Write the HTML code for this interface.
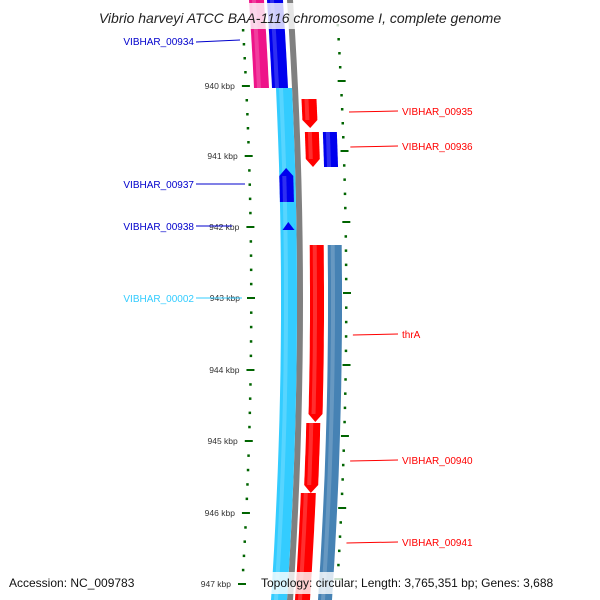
<!DOCTYPE html>
<html><head><meta charset="utf-8"><style>
body{margin:0;background:#fff;}
svg{display:block;font-family:"Liberation Sans","DejaVu Sans",sans-serif;}
</style></head><body>
<svg id="map" width="600" height="600" viewBox="0 0 600 600" xmlns="http://www.w3.org/2000/svg">
<g id="tracks"></g>
<g id="ticks"></g>
<g id="labels"></g>
<rect x="225" y="3" width="300" height="26" fill="#fff" opacity="0.8"/>
<text x="300" y="23" text-anchor="middle" font-size="14" font-style="italic" fill="#222">Vibrio harveyi ATCC BAA-1116 chromosome I, complete genome</text>
<rect x="257" y="572" width="340" height="22" fill="#fff" opacity="0.8"/>
<text x="9" y="587" font-size="12" fill="#111">Accession: NC_009783</text>
<text x="261" y="587" font-size="12" fill="#111">Topology: circular; Length: 3,765,351 bp; Genes: 3,688</text>
</svg>
<script>
const NS="http://www.w3.org/2000/svg";
// features: [name, x1, x2, yStart, yEnd, color, arrowDown]
const featNames=["f-00934","f-strandA","f-00002","f-00937","f-00938","f-00935","f-00936a","f-00936b","f-thrA","f-00940","f-00941","f-steel"];
const featX1=[259,277,281,281,283,306,308,326,310,308,305,328];
const featX2=[274,293,297,295,295,321,322,340,324,322,320,342];
const featY1=[0,0,88,168,222,99,132,132,245,423,493,245];
const featY2=[88,88,600,202,230,128,167,167,422,493,600,600];
const featColor=["#ee1489","#0000ee","#33ccff","#0000ee","#0000ee","#ff0000","#ff0000","#0000ee","#ff0000","#ff0000","#ff0000","#4682b4"];
const featArrow=[0,0,0,2,2,1,1,0,1,1,0,0];
const kbpLabels=["940 kbp","941 kbp","942 kbp","943 kbp","944 kbp","945 kbp","946 kbp","947 kbp"];
const kbpY=[86,156,227,298,370,441,513,584];
const leftLabels=["VIBHAR_00934","VIBHAR_00937","VIBHAR_00938","VIBHAR_00002"];
const leftLabelY=[41,184,226,298];
const leftColors=["#0000cc","#0000cc","#0000cc","#33ccff"];
const rightLabels=["VIBHAR_00935","VIBHAR_00936","thrA","VIBHAR_00940","VIBHAR_00941"];
const rightLabelY=[111,146,334,460,542];
function off(y){return -(y-300)*(y-300)/8960;}
function band(x1,x2,y1,y2,arrow){
  const pts=[],pts2=[];const n=20;
  let yb=y2;
  if(arrow===1) yb=y2-8;
  for(let i=0;i<=n;i++){const y=y1+(yb-y1)*i/n;pts.push([x1+off(y),y]);pts2.push([x2+off(y),y]);}
  let top=[];
  if(arrow===2){ // pointed up
    const ym=y1;const xm=(x1+x2)/2+off(ym);
    pts[0]=[x1+off(y1+8),y1+8];pts2[0]=[x2+off(y1+8),y1+8];top=[[xm,ym]];
  }
  let tip=[];
  if(arrow===1){tip=[[(x1+x2)/2+off(y2),y2]];}
  const all=top.concat(pts2).concat(tip).concat(pts.reverse());
  return all.map(p=>p[0].toFixed(1)+","+p[1].toFixed(1)).join(" ");
}
const tr=document.getElementById("tracks");
// grey backbone line
const gl=document.createElementNS(NS,"polygon");
gl.setAttribute("points",band(297,303,0,600,0));
gl.setAttribute("fill","#808080");


tr.appendChild(gl);
for(let i=0;i<featNames.length;i++){
  const p=document.createElementNS(NS,"polygon");
  p.setAttribute("points",band(featX1[i],featX2[i],featY1[i],featY2[i],featArrow[i]));
  p.setAttribute("fill",featColor[i]);
  
  
  tr.appendChild(p);
  const h=document.createElementNS(NS,"polygon");
  h.setAttribute("points",band(featX1[i]+3,featX1[i]+7,featY1[i]+(featArrow[i]===2?8:0),featY2[i]-(featArrow[i]===1?8:0),0));
  h.setAttribute("fill","#fff");h.setAttribute("opacity","0.18");
  
  
  tr.appendChild(h);
}
const tk=document.getElementById("ticks");
function addRect(x,y,w,hh,name){
  const r=document.createElementNS(NS,"rect");
  r.setAttribute("x",x);r.setAttribute("y",y);r.setAttribute("width",w);r.setAttribute("height",hh);r.setAttribute("fill","#006400");
  
  
  tk.appendChild(r);
}
for(let i=0;i<kbpY.length;i++){
  const y=kbpY[i];
  addRect(250+off(y)-3,y-1,8,2,"left-major-tick");
  addRect(346+off(y-5)-3,y-6,8,2,"right-major-tick");
  const t=document.createElementNS(NS,"text");
  t.setAttribute("x",240+off(y));t.setAttribute("y",y+3);t.setAttribute("text-anchor","end");
  t.setAttribute("font-size","8.5");t.setAttribute("fill","#333");
  t.textContent=kbpLabels[i];
  
  
  tk.appendChild(t);
  const sp=(i<kbpY.length-1?kbpY[i+1]-y:71);
  for(let k=-4;k<5;k++){ if(k===0)continue; const yy=y+sp*k/5;
    if(yy<30||yy>598) continue;
    if(k<0 && i>0) continue;
    addRect(251+off(yy)-1,yy-1,2.5,2.5,"left-minor-tick");
    addRect(346+off(yy-5)-1,yy-6,2.5,2.5,"right-minor-tick");
  }
}
const lb=document.getElementById("labels");
function addLine(x1,y1,x2,y2,c){
  const l=document.createElementNS(NS,"line");
  l.setAttribute("x1",x1);l.setAttribute("y1",y1);l.setAttribute("x2",x2);l.setAttribute("y2",y2);l.setAttribute("stroke",c);l.setAttribute("stroke-width","1");
  
  
  lb.appendChild(l);
}
function addText(x,y,s,c,anchor){
  const t=document.createElementNS(NS,"text");
  t.setAttribute("x",x);t.setAttribute("y",y+4);t.setAttribute("font-size","10");t.setAttribute("fill",c);t.setAttribute("text-anchor",anchor);
  t.textContent=s;
  
  
  lb.appendChild(t);
}
const leftLineEnd=[240,245,232,242];
for(let i=0;i<leftLabels.length;i++){
  addText(194,leftLabelY[i],leftLabels[i],leftColors[i],"end");
  addLine(196,leftLabelY[i]+(i===0?1:0),leftLineEnd[i],leftLabelY[i]-(i===0?1:0),leftColors[i]);
}
for(let i=0;i<rightLabels.length;i++){
  addText(402,rightLabelY[i],rightLabels[i],"#ff0000","start");
  addLine(353+off(rightLabelY[i]),rightLabelY[i]+1,398,rightLabelY[i],"#ff0000");
}
</script>
</body></html>
